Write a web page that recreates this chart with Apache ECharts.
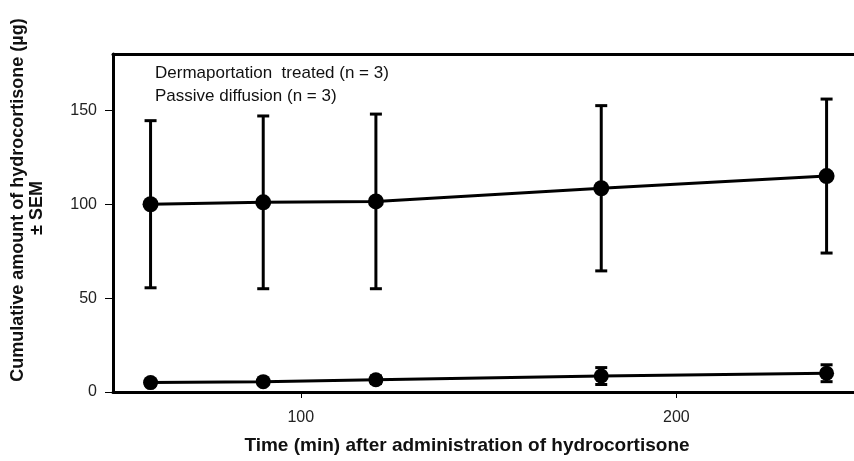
<!DOCTYPE html>
<html>
<head>
<meta charset="utf-8">
<script src="https://cdn.jsdelivr.net/npm/echarts@6/dist/echarts.min.js"></script>
<style>html,body{margin:0;padding:0;background:#fff}#c{width:854px;height:461px}</style>
</head>
<body>
<div id="c"></div>
<script>
const times = [60, 90, 120, 180, 240];
const dermaMean = [100, 101, 101.5, 108.5, 115];
const dermaSem = [44.5, 46, 46.5, 44, 41];
const passiveMean = [5, 5.5, 6.5, 8.5, 10];
const passiveSem = [1.5, 1.5, 2, 4.5, 4.5];
const seriesNames = ['Dermaportation  treated (n = 3)', 'Passive diffusion (n = 3)'];
const xTicks = [100, 200];
const yTicks = [0, 50, 100, 150];

const FONT = 'Liberation Sans, Arial, sans-serif';
const chart = echarts.init(document.getElementById('c'), null, {renderer: 'canvas'});

function lineData(means) { return times.map((t, i) => [t, means[i]]); }
function errData(means, sems) { return times.map((t, i) => [t, means[i] - sems[i], means[i] + sems[i]]); }

function errRender(params, api) {
  const x = api.value(0);
  const lo = api.coord([x, api.value(1)]);
  const hi = api.coord([x, api.value(2)]);
  const hw = 6;
  const st = {stroke: '#000', lineWidth: 3};
  return {
    type: 'group',
    children: [
      {type: 'line', shape: {x1: lo[0], y1: lo[1], x2: hi[0], y2: hi[1]}, style: st},
      {type: 'line', shape: {x1: hi[0] - hw, y1: hi[1], x2: hi[0] + hw, y2: hi[1]}, style: st},
      {type: 'line', shape: {x1: lo[0] - hw, y1: lo[1], x2: lo[0] + hw, y2: lo[1]}, style: st}
    ]
  };
}

chart.setOption({
  animation: false,
  backgroundColor: '#fff',
  grid: {left: 113, right: 0, top: 54, bottom: 69, show: false},
  legend: {
    data: seriesNames,
    orient: 'vertical',
    left: 150, top: 65, padding: 0,
    icon: 'none', itemWidth: 0, itemHeight: 17, itemGap: 6,
    textStyle: {fontFamily: FONT, fontSize: 17, color: '#111', padding: 0},
    selectedMode: false
  },
  xAxis: [{
    type: 'value', min: 50, max: 247.3, interval: 50, position: 'bottom',
    axisLine: {show: true, lineStyle: {color: '#000', width: 3}},
    axisTick: {show: true, length: 6, lineStyle: {color: '#000', width: 1}, customValues: xTicks},
    axisLabel: {fontFamily: FONT, fontSize: 16, color: '#222', margin: 18, customValues: xTicks},
    splitLine: {show: false}
  }, {
    type: 'value', min: 50, max: 247.3, interval: 50, position: 'top',
    axisLine: {show: true, lineStyle: {color: '#000', width: 3}},
    axisTick: {show: false}, axisLabel: {show: false}, splitLine: {show: false}
  }],
  yAxis: {
    type: 'value', min: 0, max: 180, interval: 50,
    axisLine: {show: true, lineStyle: {color: '#000', width: 3}},
    axisTick: {show: true, inside: false, length: 8, lineStyle: {color: '#000', width: 1}, customValues: yTicks},
    axisLabel: {fontFamily: FONT, fontSize: 16, color: '#222', margin: 16, customValues: yTicks},
    splitLine: {show: false}
  },
  graphic: [
    {type: 'text', rotation: Math.PI / 2, z: 100, x: 18, y: 200,
     style: {text: 'Cumulative amount of hydrocortisone (µg)', font: 'bold 18px ' + FONT, fill: '#111', align: 'center', verticalAlign: 'middle'}},
    {type: 'text', rotation: Math.PI / 2, z: 100, x: 37, y: 208,
     style: {text: '± SEM', font: 'bold 18px ' + FONT, fill: '#111', align: 'center', verticalAlign: 'middle'}},
    {type: 'text', z: 100, x: 467, y: 446,
     style: {text: 'Time (min) after administration of hydrocortisone', font: 'bold 19px ' + FONT, fill: '#111', align: 'center', verticalAlign: 'middle'}}
  ],
  series: [
    {type: 'custom', renderItem: errRender, data: errData(dermaMean, dermaSem), encode: {x: 0, y: [1, 2]}, z: 2, silent: true},
    {type: 'custom', renderItem: errRender, data: errData(passiveMean, passiveSem), encode: {x: 0, y: [1, 2]}, z: 2, silent: true},
    {name: seriesNames[0], type: 'line', data: lineData(dermaMean), symbol: 'circle', symbolSize: 16,
     lineStyle: {color: '#000', width: 3}, itemStyle: {color: '#000'}, z: 3},
    {name: seriesNames[1], type: 'line', data: lineData(passiveMean), symbol: 'circle', symbolSize: 15,
     lineStyle: {color: '#000', width: 3}, itemStyle: {color: '#000'}, z: 3}
  ]
});
</script>
</body>
</html>
